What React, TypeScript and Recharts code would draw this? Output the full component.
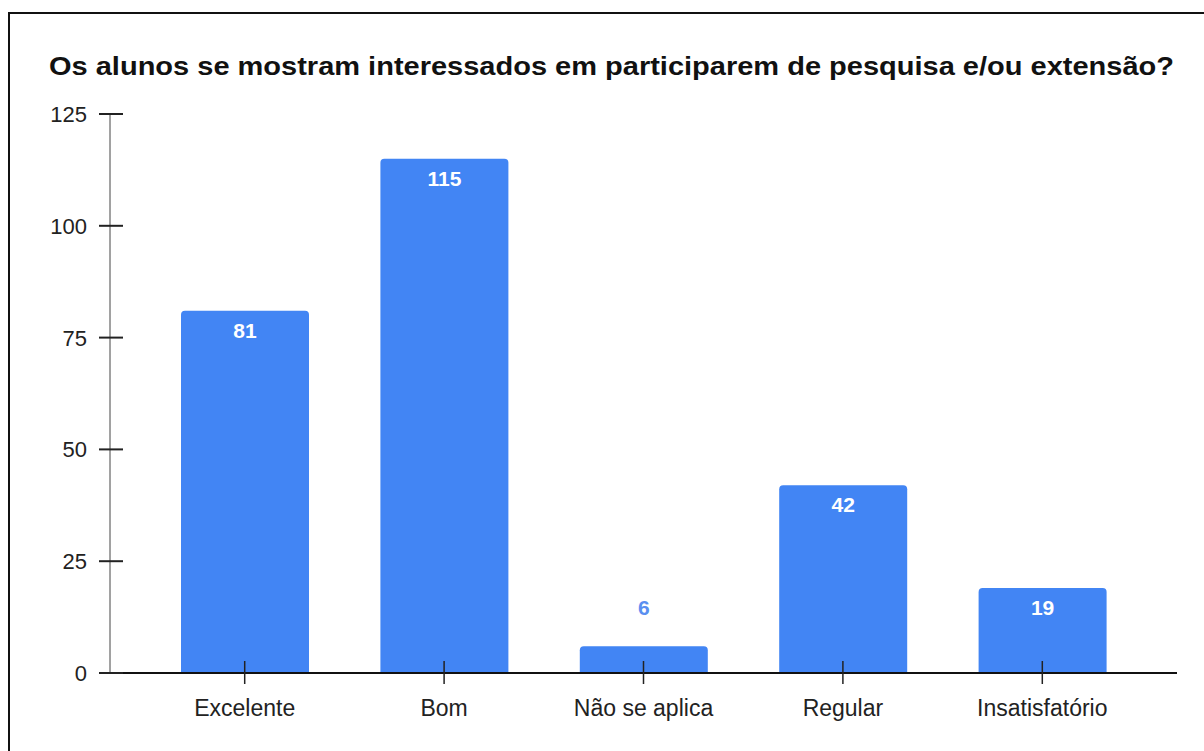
import React from 'react';
import { BarChart, Bar, XAxis, YAxis, LabelList } from 'recharts';

const categories = ['Excelente', 'Bom', 'Não se aplica', 'Regular', 'Insatisfatório'];
const counts = [81, 115, 6, 42, 19];
const yTicks = [0, 25, 50, 75, 100, 125];

const data = categories.map((name, i) => ({ name, value: counts[i] }));

const FONT = '"Liberation Sans", Arial, sans-serif';
const BLUE = '#4285F4';

const XTick = (props: any) => {
  const { x, y, payload } = props;
  return (
    <g>
      <line x1={x} x2={x} y1={y - 12} y2={y + 11} stroke="#222" strokeWidth={1.5} />
      <text x={x} y={y + 43} textAnchor="middle" fill="#222" fontSize={23} fontFamily={FONT}>
        {payload.value}
      </text>
    </g>
  );
};

const YTick = (props: any) => {
  const { x, y, payload } = props;
  return (
    <g>
      <line x1={x - 11} x2={x + 13} y1={y} y2={y} stroke="#222" strokeWidth={2} />
      <text x={x - 23} y={y + 8} textAnchor="end" fill="#222" fontSize={22} fontFamily={FONT}>
        {payload.value}
      </text>
    </g>
  );
};

const ValueLabel = (props: any) => {
  const { x, y, width, height, value } = props;
  const cx = x + width / 2;
  if (height < 40) {
    return (
      <text x={cx} y={y - 31} textAnchor="middle" fill="#5a8ff0" fontSize={21} fontWeight={700} fontFamily={FONT}>
        {value}
      </text>
    );
  }
  return (
    <text x={cx} y={y + 27} textAnchor="middle" fill="#fff" fontSize={21} fontWeight={700} fontFamily={FONT}>
      {value}
    </text>
  );
};

export default function App() {
  return (
    <div style={{ position: 'absolute', left: 0, top: 0, width: 1204, height: 751, overflow: 'hidden', background: '#fff' }}>
      <div style={{
        position: 'absolute', left: 8, top: 12, width: 1300, height: 900,
        borderTop: '2px solid #111', borderLeft: '2px solid #111',
      }} />
      <div style={{
        position: 'absolute', left: 49, top: 54, fontFamily: FONT, fontSize: 25,
        lineHeight: '25px', fontWeight: 700, color: '#111', whiteSpace: 'nowrap',
        transform: 'scaleX(1.16)', transformOrigin: 'left center',
      }}>
        Os alunos se mostram interessados em participarem de pesquisa e/ou extensão?
      </div>
      <div style={{ position: 'absolute', left: 0, top: 0 }}>
        <BarChart width={1204} height={751} data={data} margin={{ top: 114, right: 27, left: 50, bottom: 18 }}>
          <XAxis
            dataKey="name"
            height={60}
            padding={{ left: 35, right: 35 }}
            axisLine={{ stroke: '#111', strokeWidth: 2 }}
            tickLine={false}
            tickSize={0}
            tickMargin={0}
            tick={<XTick />}
            interval={0}
          />
          <YAxis
            width={60}
            domain={[0, 125]}
            ticks={yTicks}
            axisLine={{ stroke: '#444', strokeWidth: 1 }}
            tickLine={false}
            tickSize={0}
            tickMargin={0}
            tick={<YTick />}
          />
          <Bar dataKey="value" fill={BLUE} barSize={128} radius={[4, 4, 0, 0]} isAnimationActive={false}>
            <LabelList dataKey="value" content={<ValueLabel />} />
          </Bar>
        </BarChart>
      </div>
    </div>
  );
}
